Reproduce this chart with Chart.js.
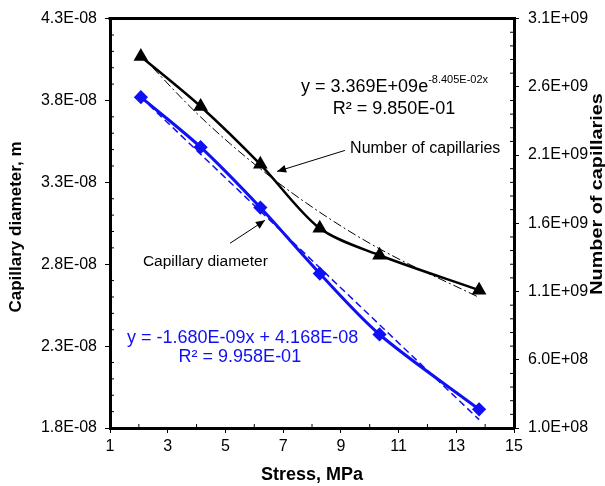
<!DOCTYPE html>
<html>
<head>
<meta charset="utf-8">
<script src="https://cdn.jsdelivr.net/npm/chart.js@4"></script>
<style>
  html, body { margin: 0; padding: 0; background: #fff; }
  #wrap { width: 605px; height: 486px; }
</style>
</head>
<body>
<div id="wrap"><canvas id="grafica" width="605" height="486"></canvas></div>
<script>
// datos
const esfuerzo = [2.07, 4.14, 6.21, 8.27, 10.34, 13.79];
const diametro = [3.82e-8, 3.515e-8, 3.146e-8, 2.743e-8, 2.371e-8, 1.914e-8];
const capilares = [2.822e9, 2.456e9, 2.032e9, 1.563e9, 1.366e9, 1.11e9];
// lineas de tendencia (valores de la ecuacion mostrada)
const tendDiamX = [2.07, 13.79];
const tendDiam = [3.820e-8, 1.851e-8];
const tendCapX = [2.07, 4.14, 6.21, 8.27, 10.34, 13.79];
const tendCap = [2.831e9, 2.379e9, 1.999e9, 1.681e9, 1.413e9, 1.057e9];
// marcas de los ejes
const ticksX = [1, 3, 5, 7, 9, 11, 13, 15];
const ticksIzq = [1.8e-8, 2.3e-8, 2.8e-8, 3.3e-8, 3.8e-8, 4.3e-8];
const ticksDer = [1.0e8, 6.0e8, 1.1e9, 1.6e9, 2.1e9, 2.6e9, 3.1e9];

const FUENTE = "Arial, 'Liberation Sans', sans-serif";
const AZUL = '#1010f5';

function formatoE(v) {
  if (v === 0) return '0.0E+00';
  let exp = Math.floor(Math.log10(Math.abs(v)) + 1e-9);
  let man = v / Math.pow(10, exp);
  if (Math.abs(man) >= 9.95) { man /= 10; exp += 1; }
  const s = exp < 0 ? '-' : '+';
  return man.toFixed(1) + 'E' + s + String(Math.abs(exp)).padStart(2, '0');
}

function puntos(xs, ys) {
  return xs.map((x, i) => ({ x: x, y: ys[i] }));
}

function flecha(ctx, x1, y1, x2, y2) {
  ctx.save();
  ctx.strokeStyle = '#000';
  ctx.fillStyle = '#000';
  ctx.lineWidth = 1;
  ctx.beginPath();
  ctx.moveTo(x1, y1);
  ctx.lineTo(x2, y2);
  ctx.stroke();
  const ang = Math.atan2(y2 - y1, x2 - x1);
  const L = 9, W = 4;
  ctx.beginPath();
  ctx.moveTo(x2, y2);
  ctx.lineTo(x2 - L * Math.cos(ang) + W * Math.sin(ang), y2 - L * Math.sin(ang) - W * Math.cos(ang));
  ctx.lineTo(x2 - L * Math.cos(ang) - W * Math.sin(ang), y2 - L * Math.sin(ang) + W * Math.cos(ang));
  ctx.closePath();
  ctx.fill();
  ctx.restore();
}

// plugin: marco, marcas menores, titulos y anotaciones
const extras = {
  id: 'extras',
  afterDraw(chart) {
    const ctx = chart.ctx;
    const a = chart.chartArea;
    const sx = chart.scales.x, sl = chart.scales.y, sr = chart.scales.y2;

    ctx.save();
    // borde superior
    ctx.strokeStyle = '#000';
    ctx.lineWidth = 3;
    ctx.beginPath();
    ctx.moveTo(a.left - 1.5, a.top);
    ctx.lineTo(a.right + 1.5, a.top);
    ctx.stroke();

    // marcas menores hacia dentro
    ctx.lineWidth = 1;
    for (let v = 2; v < 15; v += 2) {
      const px = sx.getPixelForValue(v);
      ctx.beginPath(); ctx.moveTo(px, a.bottom); ctx.lineTo(px, a.bottom - 4); ctx.stroke();
    }
    for (let i = 0; i < ticksIzq.length - 1; i++) {
      for (let k = 1; k < 5; k++) {
        const v = ticksIzq[i] + (ticksIzq[i + 1] - ticksIzq[i]) * k / 5;
        const py = sl.getPixelForValue(v);
        ctx.beginPath(); ctx.moveTo(a.left, py); ctx.lineTo(a.left + 4, py); ctx.stroke();
      }
    }
    for (let i = 0; i < ticksDer.length - 1; i++) {
      for (let k = 1; k < 5; k++) {
        const v = ticksDer[i] + (ticksDer[i + 1] - ticksDer[i]) * k / 5;
        const py = sr.getPixelForValue(v);
        ctx.beginPath(); ctx.moveTo(a.right, py); ctx.lineTo(a.right - 4, py); ctx.stroke();
      }
    }

    // titulos de ejes
    ctx.fillStyle = '#000';
    ctx.textAlign = 'center';
    ctx.textBaseline = 'middle';
    ctx.font = 'bold 18px ' + FUENTE;
    ctx.fillText('Stress, MPa', (a.left + a.right) / 2, 475);
    ctx.save();
    ctx.font = 'bold 17px ' + FUENTE;
    ctx.translate(16, 227);
    ctx.rotate(-Math.PI / 2);
    ctx.fillText('Capillary diameter, m', 0, 0);
    ctx.restore();
    ctx.save();
    ctx.font = 'bold 16.5px ' + FUENTE;
    ctx.translate(597, 194);
    ctx.rotate(-Math.PI / 2);
    ctx.scale(1.2, 1);
    ctx.fillText('Number of capillaries', 0, 0);
    ctx.restore();

    // ecuacion exponencial
    ctx.font = '18px ' + FUENTE;
    ctx.textAlign = 'left';
    ctx.textBaseline = 'middle';
    const ex = sx.getPixelForValue(7.62), ey = sr.getPixelForValue(2.595e9);
    const base = 'y = 3.369E+09e';
    ctx.fillText(base, ex, ey);
    const w = ctx.measureText(base).width;
    ctx.font = '11px ' + FUENTE;
    ctx.fillText('-8.405E-02x', ex + w, ey - 8);
    ctx.font = '18px ' + FUENTE;
    ctx.textAlign = 'center';
    ctx.fillText('R\u00b2 = 9.850E-01', sx.getPixelForValue(10.84), sr.getPixelForValue(2.441e9));

    // etiquetas con flecha
    ctx.textAlign = 'left';
    ctx.font = '16px ' + FUENTE;
    ctx.fillText('Number of capillaries', sx.getPixelForValue(9.32), sr.getPixelForValue(2.149e9));
    ctx.font = '15.5px ' + FUENTE;
    ctx.fillText('Capillary diameter', sx.getPixelForValue(2.14), sl.getPixelForValue(2.818e-8));
    ctx.restore();

    flecha(ctx, sx.getPixelForValue(9.14), sr.getPixelForValue(2.134e9),
                sx.getPixelForValue(6.79), sr.getPixelForValue(1.98e9));
    flecha(ctx, sx.getPixelForValue(5.16), sl.getPixelForValue(2.928e-8),
                sx.getPixelForValue(6.37), sl.getPixelForValue(3.068e-8));

    // ecuacion lineal en azul
    ctx.save();
    ctx.fillStyle = AZUL;
    ctx.font = '18px ' + FUENTE;
    ctx.textAlign = 'left';
    ctx.textBaseline = 'middle';
    ctx.fillText('y = -1.680E-09x + 4.168E-08', sx.getPixelForValue(1.59), sl.getPixelForValue(2.349e-8));
    ctx.textAlign = 'center';
    ctx.fillText('R\u00b2 = 9.958E-01', sx.getPixelForValue(5.5), sl.getPixelForValue(2.233e-8));
    ctx.restore();
  }
};

const $grafica = document.querySelector('#grafica');

new Chart($grafica, {
  type: 'scatter',
  data: {
    datasets: [
      {
        label: 'Capillary diameter',
        data: puntos(esfuerzo, diametro),
        yAxisID: 'y',
        showLine: true,
        borderColor: AZUL,
        backgroundColor: AZUL,
        borderWidth: 3,
        tension: 0.3,
        pointStyle: 'rectRot',
        pointRadius: 5,
        order: 2
      },
      {
        label: 'Linear (Capillary diameter)',
        data: puntos(tendDiamX, tendDiam),
        yAxisID: 'y',
        showLine: true,
        borderColor: AZUL,
        borderWidth: 1.5,
        borderDash: [7, 4],
        pointRadius: 0,
        order: 1
      },
      {
        label: 'Number of capillaries',
        data: puntos(esfuerzo, capilares),
        yAxisID: 'y2',
        showLine: true,
        borderColor: '#000',
        backgroundColor: '#000',
        borderWidth: 2.5,
        tension: 0.3,
        pointStyle: 'triangle',
        pointRadius: 6,
        order: 4
      },
      {
        label: 'Expon. (Number of capillaries)',
        data: puntos(tendCapX, tendCap),
        yAxisID: 'y2',
        showLine: true,
        borderColor: '#000',
        borderWidth: 1,
        borderDash: [9, 3, 2, 3],
        cubicInterpolationMode: 'monotone',
        pointRadius: 0,
        order: 3
      }
    ]
  },
  options: {
    responsive: false,
    animation: false,
    layout: { padding: { top: 18, right: 0, bottom: 0, left: 0 } },
    plugins: {
      legend: { display: false },
      tooltip: { enabled: false }
    },
    scales: {
      x: {
        type: 'linear',
        min: 1, max: 15,
        afterBuildTicks: s => { s.ticks = ticksX.map(v => ({ value: v })); },
        afterFit: s => { s.height = 58; },
        border: { color: '#000', width: 3 },
        grid: { drawOnChartArea: false, drawTicks: true, tickLength: 5, tickColor: '#000', tickWidth: 1 },
        ticks: { color: '#000', font: { family: FUENTE, size: 16 }, padding: 4, maxRotation: 0 }
      },
      y: {
        type: 'linear',
        position: 'left',
        min: 1.8e-8, max: 4.3e-8,
        afterBuildTicks: s => { s.ticks = ticksIzq.map(v => ({ value: v })); },
        afterFit: s => { s.width = 110; },
        border: { color: '#000', width: 3 },
        grid: { drawOnChartArea: false, drawTicks: true, tickLength: 5, tickColor: '#000', tickWidth: 1 },
        ticks: { color: '#000', font: { family: FUENTE, size: 16 }, padding: 8, callback: v => formatoE(v) }
      },
      y2: {
        type: 'linear',
        position: 'right',
        min: 1.0e8, max: 3.1e9,
        afterBuildTicks: s => { s.ticks = ticksDer.map(v => ({ value: v })); },
        afterFit: s => { s.width = 91; },
        border: { color: '#000', width: 3 },
        grid: { drawOnChartArea: false, drawTicks: true, tickLength: 5, tickColor: '#000', tickWidth: 1 },
        ticks: { color: '#000', font: { family: FUENTE, size: 16 }, padding: 9, callback: v => formatoE(v) }
      }
    }
  },
  plugins: [extras]
});
</script>
</body>
</html>
